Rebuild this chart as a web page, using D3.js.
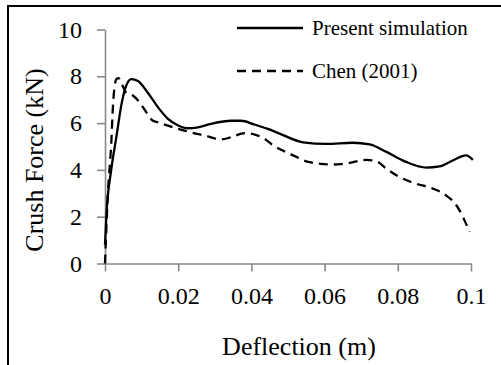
<!DOCTYPE html>
<html><head><meta charset="utf-8">
<script src="https://cdn.jsdelivr.net/npm/d3@7/dist/d3.min.js"></script>
<style>html,body{margin:0;padding:0;background:#fff;}svg{display:block;}</style>
</head><body>
<script>
const xTicks = [0, 0.02, 0.04, 0.06, 0.08, 0.1];
const xTickLabels = ["0", "0.02", "0.04", "0.06", "0.08", "0.1"];
const yTicks = [0, 2, 4, 6, 8, 10];
const yTickLabels = ["0", "2", "4", "6", "8", "10"];
const seriesNames = ["Present simulation", "Chen (2001)"];
const presentX = [0, 0.00036, 0.0017, 0.0031, 0.0045, 0.0058, 0.0072, 0.009, 0.0117, 0.0145, 0.0172, 0.02, 0.0227, 0.0254, 0.029, 0.0345, 0.0372, 0.0408, 0.0445, 0.0477, 0.0541, 0.0605, 0.0677, 0.0723, 0.0769, 0.0823, 0.0878, 0.0914, 0.095, 0.0987, 0.1005];
const presentY = [0.8, 2.0, 4.0, 5.4, 6.8, 7.6, 7.88, 7.8, 7.3, 6.67, 6.18, 5.9, 5.78, 5.82, 5.97, 6.1, 6.1, 5.94, 5.75, 5.55, 5.18, 5.11, 5.16, 5.09, 4.77, 4.34, 4.1, 4.15, 4.4, 4.62, 4.43];
const chenX = [0, 0.0008, 0.0017, 0.0022, 0.0031, 0.0037, 0.0046, 0.0058, 0.0077, 0.0095, 0.0113, 0.0131, 0.0145, 0.018, 0.0217, 0.0236, 0.0272, 0.0318, 0.0345, 0.0382, 0.0409, 0.0436, 0.046, 0.0505, 0.0559, 0.0623, 0.0668, 0.0714, 0.0741, 0.0769, 0.0805, 0.085, 0.0896, 0.0932, 0.096, 0.0978, 0.0996];
const chenY = [0, 3.0, 5.1, 6.8, 7.88, 7.92, 7.67, 7.3, 7.17, 6.88, 6.46, 6.1, 6.03, 5.85, 5.68, 5.6, 5.47, 5.3, 5.4, 5.57, 5.51, 5.33, 5.04, 4.69, 4.33, 4.23, 4.3, 4.43, 4.37, 4.05, 3.69, 3.41, 3.2, 2.91, 2.49, 1.99, 1.35];

const W = 501, H = 365;
const svg = d3.select("body").append("svg").attr("width", W).attr("height", H);
const font = "'Liberation Serif','Times New Roman',serif";

// outer frame (extends beyond right/bottom)
svg.append("rect").attr("x", 8).attr("y", 6).attr("width", 520).attr("height", 400)
  .attr("fill", "none").attr("stroke", "#000").attr("stroke-width", 2);

const x = d3.scaleLinear().domain([0, 0.1]).range([105, 471]);
const y = d3.scaleLinear().domain([0, 10]).range([263.5, 29.5]);
const axisColor = "#898989";

const gx = svg.append("g").attr("transform", "translate(0,263.5)")
  .call(d3.axisBottom(x).tickValues(xTicks).tickFormat((d, i) => xTickLabels[i]).tickSize(8).tickSizeOuter(0).tickPadding(15));
const gy = svg.append("g").attr("transform", "translate(105,0)")
  .call(d3.axisLeft(y).tickValues(yTicks).tickFormat((d, i) => yTickLabels[i]).tickSize(8).tickSizeOuter(0).tickPadding(15));
[gx, gy].forEach(g => {
  g.attr("font-family", font).attr("font-size", 24);
  g.select(".domain").attr("stroke", axisColor).attr("stroke-width", 1.6);
  g.selectAll(".tick line").attr("stroke", axisColor).attr("stroke-width", 1.6);
  g.selectAll(".tick text").attr("fill", "#000").attr("font-family", font).style("font-family", font).style("font-size", "24px");
});

const line = d3.line().x(d => x(d[0])).y(d => y(d[1])).curve(d3.curveMonotoneX);
const present = presentX.map((v, i) => [v, presentY[i]]);
const chen = chenX.map((v, i) => [v, chenY[i]]);

svg.append("path").datum(chen).attr("d", line).attr("fill", "none")
  .attr("stroke", "#000").attr("stroke-width", 2.3).attr("stroke-dasharray", "9,6");
svg.append("path").datum(present).attr("d", line).attr("fill", "none")
  .attr("stroke", "#000").attr("stroke-width", 2.3);

// legend
const leg = svg.append("g");
leg.append("line").attr("x1", 237).attr("x2", 303).attr("y1", 28).attr("y2", 28)
  .attr("stroke", "#000").attr("stroke-width", 2.3);
leg.append("line").attr("x1", 237).attr("x2", 303).attr("y1", 71).attr("y2", 71)
  .attr("stroke", "#000").attr("stroke-width", 2.3).attr("stroke-dasharray", "9,6");
leg.append("text").attr("x", 312).attr("y", 35).text(seriesNames[0])
  .style("font-family", font).style("font-size", "21px");
leg.append("text").attr("x", 312).attr("y", 78).text(seriesNames[1])
  .style("font-family", font).style("font-size", "21px");

// axis titles
svg.append("text").attr("x", 299).attr("y", 355).attr("text-anchor", "middle")
  .style("font-family", font).style("font-size", "26px").text("Deflection (m)");
svg.append("text").attr("transform", "translate(43,160) rotate(-90)").attr("text-anchor", "middle")
  .style("font-family", font).style("font-size", "26px").text("Crush Force (kN)");
</script>
</body></html>
